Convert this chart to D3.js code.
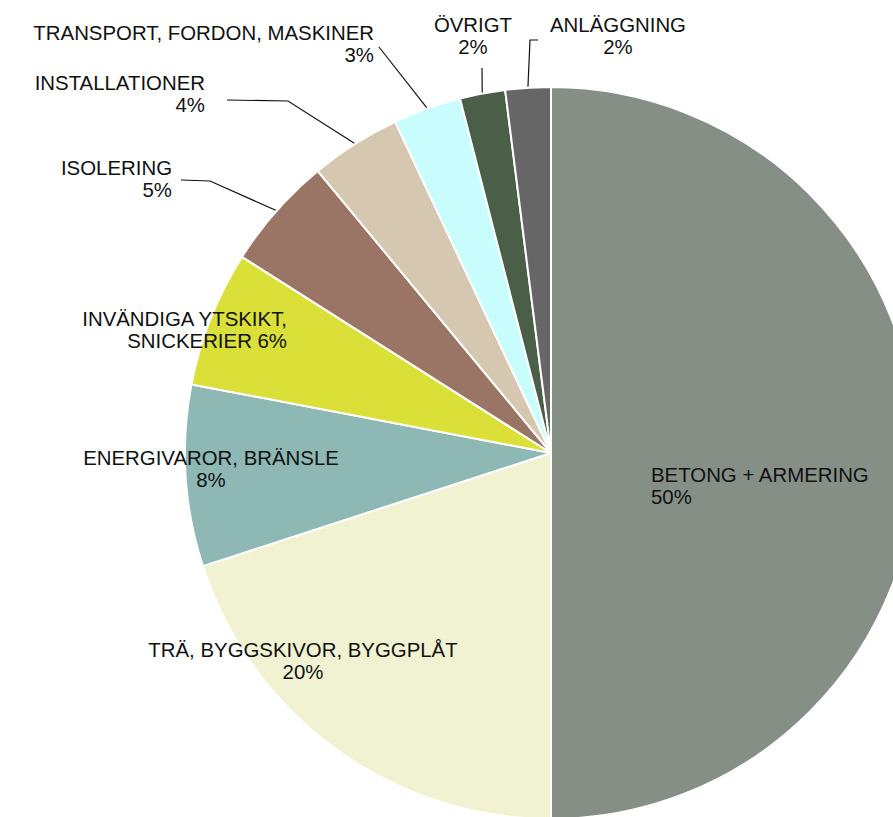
<!DOCTYPE html>
<html>
<head>
<meta charset="utf-8">
<script src="https://cdnjs.cloudflare.com/ajax/libs/d3/7.8.5/d3.min.js"></script>
<style>
  html, body { margin: 0; padding: 0; background: #fff; }
  svg { display: block; }
  text { font-family: "Liberation Sans", Arial, sans-serif; font-size: 20.4px; fill: #111; }
</style>
</head>
<body>
<svg id="chart" width="893" height="817"></svg>
<script>
const categories = [
    "BETONG + ARMERING",
    "TRÄ, BYGGSKIVOR, BYGGPLÅT",
    "ENERGIVAROR, BRÄNSLE",
    "INVÄNDIGA YTSKIKT, SNICKERIER",
    "ISOLERING",
    "INSTALLATIONER",
    "TRANSPORT, FORDON, MASKINER",
    "ÖVRIGT",
    "ANLÄGGNING"
];
const shares = [50, 20, 8, 6, 5, 4, 3, 2, 2];
const sliceColors = ["#868f86", "#f0f2d2", "#8db8b4", "#dbe038", "#9a7465", "#d5c7b0", "#c8fcfd", "#4a5e48", "#666666"];

// label layout: text lines, anchor, first baseline, and optional leader elbow
const labelLayout = [
    {lines: ["BETONG + ARMERING", "50%"], anchor: "start", x: 651, y: 482},
    {lines: ["TRÄ, BYGGSKIVOR, BYGGPLÅT", "20%"], anchor: "middle", x: 303, y: 657},
    {lines: ["ENERGIVAROR, BRÄNSLE", "8%"], anchor: "middle", x: 211, y: 465},
    {lines: ["INVÄNDIGA YTSKIKT,", "SNICKERIER 6%"], anchor: "end", x: 287, y: 326},
    {lines: ["ISOLERING", "5%"], anchor: "end", x: 172, y: 175, leader: [[181, 180], [210, 181]]},
    {lines: ["INSTALLATIONER", "4%"], anchor: "end", x: 205, y: 90, leader: [[227, 100], [288, 101]]},
    {lines: ["TRANSPORT, FORDON, MASKINER", "3%"], anchor: "end", x: 374, y: 40, leader: [[379, 47]]},
    {lines: ["ÖVRIGT", "2%"], anchor: "middle", x: 473, y: 32, leader: [[482, 68]]},
    {lines: ["ANLÄGGNING", "2%"], anchor: "middle", x: 618, y: 32, leader: [[538, 40], [530, 40]]}
];

const width = 893;
const height = 817;
const cx = 551, cy = 453;
const radius = 366;
const lineHeight = 22;

const svg = d3.select('#chart');

const pie = d3.pie()
    .sort(null)
    .value(d => d.value);

const data = categories.map((c, i) => ({name: c, value: shares[i], color: sliceColors[i], layout: labelLayout[i]}));
const arcs = pie(data);

const arc = d3.arc()
    .innerRadius(0)
    .outerRadius(radius);

const g = svg.append('g')
    .attr('transform', `translate(${cx}, ${cy})`);

g.selectAll('path.slice')
    .data(arcs)
    .join('path')
        .classed('slice', true)
        .attr('d', arc)
        .style('fill', d => d.data.color)
        .style('stroke', '#fff')
        .style('stroke-width', 2);

// leader lines from the slice's outer edge to the label
const leaderLine = d3.line();
arcs.filter(d => d.data.layout.leader).forEach(d => {
    const mid = (d.startAngle + d.endAngle) / 2;
    const edge = [cx + Math.sin(mid) * (radius + 1), cy - Math.cos(mid) * (radius + 1)];
    const pts = d.data.layout.leader.concat([edge]);
    svg.append('path')
        .attr('d', leaderLine(pts))
        .style('fill', 'none')
        .style('stroke', '#111')
        .style('stroke-width', 1.2);
});

// labels
arcs.forEach(d => {
    const l = d.data.layout;
    const t = svg.append('text')
        .attr('text-anchor', l.anchor)
        .attr('x', l.x)
        .attr('y', l.y);
    l.lines.forEach((line, k) => {
        t.append('tspan')
            .attr('x', l.x)
            .attr('y', l.y + k * lineHeight)
            .text(line);
    });
});
</script>
</body>
</html>
